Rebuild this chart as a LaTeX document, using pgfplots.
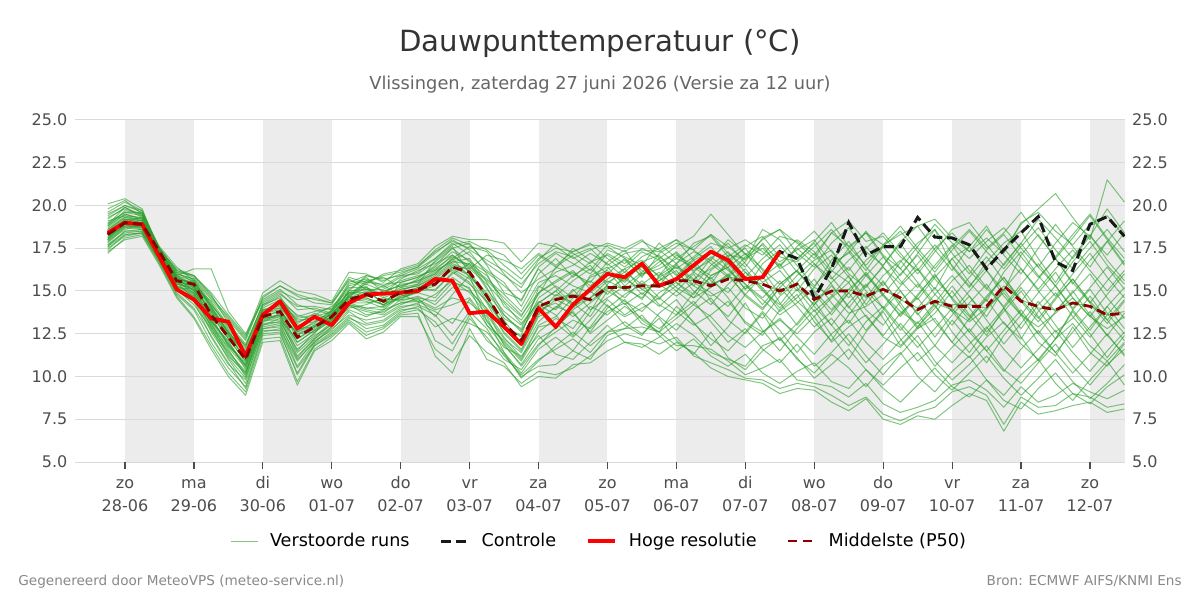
\documentclass[border=0pt]{standalone}
\usepackage{fontspec}
\setmainfont{DejaVu Sans}
\usepackage{pgfplots}
\usepackage{pgfplotstable}
\pgfplotsset{compat=1.18}

\definecolor{ensgreen}{RGB}{44,160,44}
\definecolor{p50red}{RGB}{139,0,0}
\definecolor{hresred}{RGB}{255,0,0}
\definecolor{dayshade}{RGB}{236,236,236}
\definecolor{gridgray}{RGB}{218,218,218}
\definecolor{ticktext}{RGB}{77,77,77}
\definecolor{titletext}{RGB}{51,51,51}
\definecolor{subtext}{RGB}{102,102,102}
\definecolor{foot}{RGB}{136,136,136}

% Ensemble members: one row per member, one column per 6-hourly step
% (hours relative to 28-06 00:00)
\pgfplotstableread[header=has colnames]{
member -6 0 6 12 18 24 30 36 42 48 54 60 66 72 78 84 90 96 102 108 114 120 126 132 138 144 150 156 162 168 174 180 186 192 198 204 210 216 222 228 234 240 246 252 258 264 270 276 282 288 294 300 306 312 318 324 330 336 342 348
m1 18.0 19.2 19.0 17.0 15.8 15.0 13.9 12.5 11.3 13.8 14.2 12.9 13.4 13.2 14.8 15.3 14.1 15.5 15.8 16.4 17.3 16.8 15.2 13.4 12.8 14.9 15.6 16.2 15.1 16.3 16.8 15.9 16.7 17.2 16.1 15.4 16.8 17.5 16.2 14.8 15.9 16.8 17.4 16.0 15.2 16.5 17.8 16.3 15.1 16.9 17.6 16.2 15.0 17.1 18.3 16.9 15.4 16.8 17.9 16.5
m2 18.7 19.5 19.2 17.4 15.3 14.8 12.9 11.5 10.2 13.1 13.2 11.6 12.4 13.0 14.1 13.8 13.6 14.2 14.6 13.5 14.8 15.9 13.2 12.0 10.9 12.6 13.4 12.8 14.1 13.6 14.5 13.3 12.6 14.1 13.2 11.8 12.9 14.3 12.7 11.5 12.8 13.9 12.4 11.0 12.6 13.8 12.2 10.9 11.8 13.3 12.1 10.8 12.4 13.6 12.0 11.2 12.9 11.4 10.6 11.9
m3 19.3 19.8 19.5 17.5 16.1 15.9 14.8 13.1 11.9 14.2 14.6 13.5 13.8 14.0 15.3 15.6 15.2 15.8 16.1 16.9 17.8 17.1 16.2 15.5 14.1 16.0 16.9 15.8 16.7 17.1 16.4 17.3 16.8 15.9 16.9 17.6 16.3 15.1 16.6 17.4 16.1 15.2 16.8 17.9 16.4 15.3 16.7 17.8 18.6 17.2 16.0 17.4 18.3 17.0 15.8 16.9 18.1 19.4 18.0 16.6
m4 17.6 18.5 18.6 16.9 15.1 14.2 12.8 11.0 9.6 12.6 12.8 10.9 12.1 12.7 13.8 13.1 13.3 14.0 14.3 14.8 15.6 14.9 13.6 12.2 11.4 13.2 14.1 13.7 12.6 14.0 14.8 15.4 14.2 13.6 14.9 15.8 14.6 13.1 12.4 13.9 14.8 13.2 12.1 13.6 14.9 13.4 11.8 12.9 14.2 12.6 11.4 12.8 14.0 12.3 10.9 12.2 13.8 12.5 11.1 12.4
m5 18.4 19.1 19.3 17.3 15.9 16.3 16.3 13.8 12.5 14.5 15.1 14.2 13.9 13.6 15.0 15.9 15.6 16.0 16.4 17.2 18.0 17.4 16.8 16.2 15.4 16.6 17.3 17.0 16.2 17.4 17.0 16.5 17.8 16.9 17.6 18.3 17.2 16.4 17.8 16.7 17.4 18.0 16.6 17.2 18.5 17.1 16.3 17.6 18.9 17.8 16.9 17.9 18.7 17.5 16.4 17.8 19.0 18.2 17.1 18.4
m6 17.9 18.6 18.9 17.1 15.4 15.2 13.3 12.0 10.6 13.3 13.6 12.0 12.7 13.4 14.4 14.6 14.2 14.6 15.0 15.1 16.0 16.6 15.1 13.8 13.0 14.4 13.9 15.0 15.6 14.8 15.9 14.8 15.6 16.2 15.0 14.2 15.4 16.3 15.1 13.8 14.6 15.7 14.3 13.1 14.5 15.6 14.1 12.8 13.7 15.0 13.6 12.4 14.0 15.2 13.9 12.6 13.4 14.7 13.3 12.1
m7 18.9 19.9 19.4 17.6 16.4 15.6 14.2 12.9 11.8 14.0 14.5 13.2 13.5 13.8 14.9 15.4 15.0 15.3 15.6 16.0 16.9 17.6 17.3 16.0 14.9 15.7 16.3 17.5 16.8 16.0 15.6 16.7 17.1 16.0 15.3 16.5 17.3 16.1 15.0 14.2 15.5 16.6 15.4 14.0 15.3 16.4 15.0 13.6 14.8 15.9 14.7 13.5 15.1 16.3 15.0 13.8 14.9 16.0 14.6 13.4
m8 17.2 18.1 18.3 16.6 14.7 13.5 11.8 10.2 9.1 12.2 12.3 9.7 11.6 12.3 13.2 12.4 12.8 13.6 13.7 11.2 10.2 12.8 11.0 10.6 9.6 10.3 10.1 10.5 11.2 12.1 12.5 12.2 11.9 12.3 11.2 10.8 10.4 9.9 9.8 9.3 9.6 9.4 8.9 8.3 8.8 7.8 7.4 7.9 8.2 9.1 9.4 8.9 7.2 8.8 8.2 8.3 9.0 8.8 8.2 8.4
m9 19.6 20.2 19.7 17.4 16.0 15.7 14.5 13.3 12.1 14.6 15.3 14.7 14.3 14.2 15.7 15.1 14.8 15.7 16.2 16.6 17.1 16.3 17.1 16.8 16.3 17.2 16.5 17.3 17.8 16.9 16.1 17.0 17.5 18.0 17.4 16.6 15.8 16.7 18.1 18.6 17.8 16.9 18.4 19.1 17.9 18.2 17.0 16.2 17.5 18.4 17.3 18.1 17.2 19.0 19.6 18.5 17.7 18.9 19.4 18.2
m10 18.1 18.9 18.7 17.0 15.5 14.6 13.0 11.7 10.5 13.0 13.4 11.2 12.2 13.1 14.0 14.2 14.6 14.4 14.7 14.2 15.2 15.0 14.0 12.6 11.6 13.6 14.8 14.3 13.5 15.0 14.4 13.8 14.9 15.5 14.6 15.2 16.0 14.7 13.9 15.2 14.1 12.9 13.8 14.9 13.5 12.4 13.7 14.6 13.2 12.0 13.4 14.5 13.1 12.2 13.8 14.9 13.5 12.3 13.6 14.8
m11 20.1 20.4 19.8 17.2 15.7 15.5 14.0 12.6 11.5 13.9 14.0 13.0 13.2 13.6 14.7 15.6 15.8 15.2 15.4 16.8 17.6 16.0 14.4 12.9 12.4 15.2 16.1 16.5 17.2 16.6 15.8 16.4 15.3 16.6 17.3 16.8 18.0 17.2 16.0 17.1 18.0 17.3 16.1 17.5 18.4 17.0 15.9 17.2 18.6 16.4 15.2 16.7 17.8 18.5 16.9 15.5 17.0 18.3 16.8 15.6
m12 17.7 18.4 18.5 16.8 15.2 15.1 13.4 11.9 10.8 13.2 13.7 12.5 12.6 13.3 14.3 14.0 13.9 14.7 14.9 15.6 16.2 15.5 13.9 11.8 10.7 12.2 12.8 13.9 14.6 15.3 14.2 14.9 14.1 15.0 16.0 14.4 13.5 14.8 15.9 14.3 13.0 14.2 15.3 14.1 12.7 13.9 15.0 13.7 12.3 13.6 14.7 13.3 11.9 13.1 14.4 13.0 11.7 12.9 14.1 12.8
m13 18.5 19.3 19.1 17.3 15.6 15.3 13.7 12.2 10.9 13.7 13.9 12.4 13.0 13.7 14.6 15.0 14.3 15.1 15.3 15.8 16.6 16.2 14.6 13.3 11.9 14.2 13.6 12.4 13.8 15.4 16.3 15.1 14.5 15.8 16.8 15.6 14.9 16.1 15.2 14.0 15.1 13.8 14.7 15.9 14.2 15.5 14.3 12.9 14.0 15.3 14.0 12.6 13.8 15.0 13.5 12.2 13.9 15.1 13.7 12.5
m14 18.2 18.8 19.0 17.1 15.7 15.0 13.1 11.3 10.1 13.4 13.5 11.8 12.5 13.9 14.9 14.9 15.3 14.8 14.4 12.1 11.5 13.4 12.3 11.0 10.4 11.8 12.9 13.8 12.5 13.3 14.1 13.4 12.8 13.6 14.4 13.2 12.0 12.8 11.6 10.8 11.9 10.6 11.4 12.5 11.2 10.1 11.3 12.4 10.9 9.8 10.7 11.8 10.4 9.6 10.8 11.9 10.6 9.5 10.7 11.6
m15 19.0 19.6 19.6 17.5 16.2 15.8 14.6 13.5 12.3 14.9 15.6 15.0 14.8 14.4 16.1 16.0 15.5 16.3 16.6 17.6 18.2 18.0 18.0 17.8 16.7 17.8 17.6 16.9 17.4 17.8 17.5 18.0 16.9 17.6 18.2 19.5 18.3 17.1 18.0 18.6 17.2 16.4 17.8 18.7 17.3 16.5 17.9 18.8 17.4 16.2 17.6 18.8 17.1 16.0 17.5 18.9 17.6 16.4 17.9 19.1
m16 17.4 18.3 18.4 16.7 14.9 14.0 12.4 10.8 9.3 12.4 12.5 10.2 11.9 12.6 13.5 12.8 13.0 13.8 14.1 13.6 12.4 13.8 12.8 11.2 10.1 11.0 11.6 12.2 11.4 12.6 13.2 12.5 13.4 12.1 11.3 12.6 11.1 10.4 11.5 12.3 11.0 10.2 11.3 10.5 9.4 10.6 11.4 10.0 9.1 10.3 11.2 9.8 8.9 10.1 11.0 9.6 8.6 9.8 10.9 9.5
m17 18.6 19.4 19.3 17.2 15.5 15.6 14.1 12.7 11.2 13.6 14.4 13.6 13.3 13.4 14.6 15.5 15.4 15.5 15.8 16.3 17.0 16.5 15.7 14.8 13.8 15.5 15.9 15.3 14.9 15.7 16.3 16.8 15.8 16.4 15.6 16.9 17.8 16.6 15.5 16.2 15.0 16.3 17.1 15.8 14.6 15.9 16.8 15.5 14.3 15.6 16.5 15.2 14.1 15.4 16.6 15.3 14.0 15.2 16.4 15.1
m18 17.8 18.7 18.8 17.0 15.3 14.7 12.7 11.4 10.3 12.9 13.1 11.0 12.0 12.9 14.2 13.6 13.8 14.3 14.5 14.0 14.6 14.3 13.5 11.4 10.2 11.6 12.3 11.5 12.9 14.2 13.0 12.4 13.7 14.5 13.1 12.2 11.5 12.6 13.8 12.7 11.4 12.6 13.4 12.1 10.8 11.9 13.1 12.0 10.6 11.7 12.8 11.5 10.3 11.6 12.7 11.4 10.2 11.3 12.5 11.2
m19 19.4 20.0 19.6 17.4 15.9 15.2 13.8 12.4 11.4 14.1 14.7 13.1 13.7 13.3 15.1 15.8 14.9 15.4 15.5 16.1 16.8 17.3 16.0 14.1 13.3 14.8 16.4 16.0 15.5 16.7 17.4 16.0 16.5 17.3 16.2 16.8 15.9 17.0 17.7 16.3 16.9 17.8 16.2 15.5 16.8 17.6 16.3 15.2 16.5 17.7 16.2 15.1 16.6 17.8 16.4 15.3 16.7 17.9 16.5 15.4
m20 18.0 18.9 18.6 17.1 15.6 14.9 13.2 12.1 10.4 13.3 13.3 12.2 12.8 13.5 14.5 14.4 14.0 14.8 15.2 15.0 16.1 15.4 14.4 13.0 12.3 13.9 14.3 13.5 14.3 15.1 15.7 15.1 15.4 14.7 15.5 14.9 14.1 15.3 14.5 13.6 14.3 15.2 14.8 13.7 14.1 14.8 13.8 13.1 14.3 13.9 13.2 14.0 14.9 13.6 12.9 13.7 14.6 13.5 12.8 13.5
m21 18.8 19.7 19.5 17.3 16.0 15.7 14.3 12.8 11.6 13.9 14.1 12.7 13.1 13.9 15.2 15.2 14.7 15.2 15.7 16.5 17.5 17.8 16.5 14.9 14.5 16.3 15.2 14.2 15.9 16.4 15.3 16.1 16.9 15.5 14.8 16.2 17.0 15.8 16.9 17.7 16.5 15.3 16.4 17.3 15.9 14.8 16.0 17.1 15.7 14.6 15.8 17.0 15.6 14.4 15.7 16.9 15.5 14.3 15.6 16.8
m22 17.5 18.2 18.4 16.8 15.0 14.4 12.3 10.7 9.8 12.8 12.9 10.6 12.0 12.8 13.6 13.3 13.5 14.1 14.2 13.8 13.1 14.5 13.0 11.7 11.2 12.4 11.3 11.0 12.0 13.0 12.0 11.7 12.3 13.1 12.4 11.4 11.0 10.6 11.8 12.2 11.1 9.9 10.7 11.6 10.4 9.5 10.5 11.4 10.1 9.2 10.2 11.2 9.9 8.9 9.9 11.0 9.7 8.7 9.6 10.7
m23 19.1 19.4 19.1 17.4 15.8 15.4 13.6 12.3 11.1 13.6 14.3 13.4 13.6 14.1 15.0 15.1 15.1 15.6 15.9 16.2 16.7 16.9 15.5 13.6 12.6 14.6 15.3 14.6 15.8 16.2 15.0 16.0 16.3 16.9 16.4 15.7 16.6 15.4 14.2 15.4 16.2 14.9 13.6 14.9 16.1 14.8 13.5 14.7 16.0 14.5 13.3 14.6 15.8 14.4 13.2 14.5 15.7 14.3 13.1 14.4
m24 18.3 19.0 18.9 17.2 15.4 15.1 13.5 11.8 10.7 13.4 13.6 12.6 13.0 13.2 14.3 14.3 14.5 14.5 15.0 15.3 16.3 15.7 14.3 12.5 11.5 13.5 14.0 15.1 13.9 14.6 15.3 14.5 15.9 16.6 15.3 14.7 15.2 14.0 13.4 14.7 15.5 14.1 13.0 14.3 15.4 14.0 12.7 14.0 15.2 13.8 12.6 13.9 15.1 13.7 12.5 13.8 15.0 13.6 12.4 13.7
m25 19.8 20.3 19.5 17.3 15.8 15.3 14.4 13.0 11.7 14.3 14.9 13.9 14.0 13.7 15.4 15.7 15.3 15.9 16.0 16.7 17.5 16.7 16.1 15.3 14.4 16.4 17.2 16.6 16.0 17.2 16.6 17.5 17.0 16.3 17.0 17.8 17.5 18.0 17.3 16.4 17.6 18.5 17.3 16.2 17.5 18.4 17.2 16.0 17.3 18.6 19.0 17.7 16.5 17.8 19.2 18.1 16.9 18.2 19.8 18.4
m26 18.2 18.9 18.8 17.0 15.6 14.8 13.1 11.6 10.0 13.0 13.2 11.4 12.3 13.2 14.2 13.9 13.7 14.5 14.6 14.4 15.5 15.2 13.0 12.1 11.0 12.9 13.1 12.3 13.3 14.5 13.6 14.3 13.5 12.7 13.9 14.6 13.3 12.5 13.7 12.1 13.1 14.4 13.0 11.8 13.2 14.1 12.9 11.7 12.8 14.0 12.6 11.5 12.7 13.9 12.5 11.4 12.6 13.8 12.4 11.3
m27 18.9 19.6 19.4 17.4 16.3 15.9 14.9 13.6 12.4 14.4 15.0 14.5 14.6 14.3 15.6 15.4 16.0 16.2 16.5 17.3 17.9 17.5 17.5 17.1 16.0 17.1 16.4 17.1 17.5 16.5 17.2 17.4 17.3 18.0 16.8 17.3 16.6 17.6 18.2 17.0 16.7 17.6 18.6 17.4 16.2 17.6 18.5 17.3 16.1 17.4 18.5 17.3 16.3 17.6 18.7 17.4 16.3 17.5 18.6 17.3
m28 17.9 18.8 18.7 17.0 15.2 14.5 12.6 11.1 9.9 12.7 12.7 10.5 11.8 12.5 13.4 13.0 13.2 13.9 14.0 12.9 13.4 13.1 12.6 11.4 9.9 10.9 11.8 12.6 11.8 12.6 12.8 13.6 12.4 11.5 12.2 11.2 10.6 11.3 10.2 9.6 10.3 10.8 9.7 9.3 10.4 9.3 8.5 9.5 10.5 9.4 8.8 9.8 8.6 8.1 9.3 10.2 9.0 8.4 9.4 10.1
m29 18.4 19.2 19.0 17.2 15.6 15.2 13.8 12.4 11.1 13.6 13.8 12.8 12.9 13.5 14.7 14.6 14.2 14.9 15.2 15.7 16.5 16.3 15.4 14.3 13.1 14.3 15.0 15.9 16.5 15.3 14.6 15.6 14.6 15.3 16.1 17.0 16.2 15.4 14.6 15.6 14.4 13.5 14.6 15.5 13.9 13.0 14.4 15.4 14.1 13.0 14.3 15.4 14.0 12.8 14.2 15.3 13.9 12.7 14.1 15.2
m30 17.3 18.0 18.2 16.5 14.6 13.4 11.6 10.0 8.9 12.0 12.1 9.5 11.5 12.1 13.1 12.2 12.6 13.5 13.5 11.6 10.8 12.4 11.4 10.8 9.4 10.0 9.9 10.7 10.8 11.5 12.0 11.9 11.3 12.0 11.4 10.5 10.0 9.8 9.6 9.0 9.3 9.2 8.5 8.0 8.7 7.5 7.2 7.7 7.5 8.3 9.0 8.6 6.8 8.5 7.8 8.0 8.3 8.5 7.9 8.1
m31 18.6 19.3 19.2 17.3 15.9 15.6 14.0 12.6 11.4 13.8 14.4 13.3 13.4 13.6 14.8 15.1 14.6 15.0 15.4 16.0 16.9 15.8 14.8 12.8 11.8 13.7 14.5 14.0 15.0 16.0 16.9 16.2 15.6 16.5 15.7 16.3 17.1 16.9 17.5 16.5 17.5 16.6 15.7 16.8 17.6 16.4 15.4 16.6 17.7 16.5 15.3 16.4 17.5 16.3 15.1 16.3 17.4 16.2 15.0 16.2
m32 18.0 18.7 18.6 17.0 15.3 14.9 13.3 11.9 10.6 13.2 13.5 11.5 12.6 13.3 14.2 14.0 14.1 14.6 14.9 14.6 15.8 15.1 13.8 12.3 11.1 13.0 13.5 14.6 15.0 14.1 13.5 14.0 14.6 13.8 13.0 13.6 14.4 13.2 12.6 13.3 12.5 13.5 12.0 12.9 13.6 12.3 11.7 12.8 13.4 12.0 11.1 12.3 13.2 11.9 11.0 12.2 13.1 11.8 10.9 12.0
m33 19.2 19.9 19.3 17.5 16.1 15.5 14.2 13.0 11.8 14.2 14.8 14.1 14.1 13.9 15.5 15.9 15.7 15.9 16.3 16.9 17.7 17.9 17.4 16.5 15.7 16.9 17.5 17.3 17.7 17.6 16.9 15.8 17.2 17.8 17.4 18.3 17.6 16.8 18.6 18.0 16.8 17.9 19.0 17.6 16.5 17.7 18.8 17.5 16.3 17.6 18.6 17.5 18.4 19.6 18.2 17.0 18.3 19.5 18.1 16.9
m34 17.7 18.5 18.5 16.9 15.1 14.7 12.9 11.2 10.2 12.8 13.0 11.1 12.2 12.9 13.9 13.5 13.9 14.3 14.4 13.9 14.2 14.6 13.3 11.9 10.6 11.9 12.6 13.3 12.8 13.8 14.3 13.1 12.6 13.4 14.2 13.5 12.4 11.7 12.6 13.4 12.3 11.3 12.5 13.3 12.0 11.0 12.1 13.2 11.8 10.8 11.9 12.9 11.6 10.5 11.6 12.7 11.4 10.3 11.5 12.6
m35 18.5 19.2 19.1 17.3 15.7 15.5 14.1 12.5 11.0 13.7 14.0 12.2 12.9 13.7 14.7 15.2 14.8 15.1 15.3 15.9 16.7 16.6 15.9 14.4 13.5 15.3 14.7 15.6 16.3 15.5 16.1 15.4 16.1 15.2 14.6 15.9 16.4 15.1 15.8 16.6 15.2 14.2 15.5 16.4 15.0 14.0 15.3 16.3 14.8 13.8 15.0 16.2 14.7 13.6 14.9 16.1 14.6 13.5 14.8 16.0
m36 18.1 18.8 18.8 17.1 15.5 15.1 13.2 11.8 10.7 13.4 13.6 12.0 12.7 13.4 14.4 14.5 14.2 14.7 15.0 15.5 16.4 15.9 14.9 13.6 12.7 14.3 15.0 14.1 14.6 15.6 15.1 14.6 15.8 15.0 14.2 15.3 15.9 14.8 14.0 15.2 16.2 15.0 13.9 15.1 16.0 14.7 13.6 14.8 15.9 14.6 13.5 14.7 15.8 14.5 13.4 14.6 15.7 14.4 13.3 14.5
m37 19.5 20.0 19.7 17.5 16.2 15.9 14.7 13.4 12.2 14.7 15.3 14.8 14.5 14.3 15.8 15.5 15.9 16.1 16.4 17.4 18.1 17.7 16.6 15.9 15.2 16.8 17.8 17.2 16.6 17.7 17.3 17.9 17.4 16.6 17.8 18.2 17.0 17.7 17.1 18.2 17.9 17.1 18.4 17.6 18.4 17.7 18.3 18.8 19.2 18.1 17.3 18.6 17.4 18.9 19.8 20.7 19.3 18.0 21.5 20.2
m38 17.6 18.3 18.4 16.7 14.8 13.9 12.0 10.5 9.4 12.5 12.6 10.1 11.8 12.4 13.3 12.6 12.9 13.7 13.9 13.2 11.9 13.6 12.1 11.3 10.0 10.6 10.7 11.5 11.0 12.4 12.8 12.9 12.6 11.8 11.8 11.6 10.9 10.1 10.5 11.0 9.8 9.6 9.4 8.8 9.6 8.4 7.9 8.2 8.6 9.5 9.8 9.2 8.2 9.4 8.5 8.9 9.6 9.1 8.7 9.2
m39 18.3 19.1 18.9 17.2 15.6 15.3 13.6 12.2 10.9 13.5 13.8 12.5 12.9 13.5 14.5 14.9 14.4 14.9 15.1 15.4 16.4 16.0 14.6 13.0 12.0 14.0 14.6 14.8 14.4 15.2 15.2 15.4 15.2 15.7 15.6 15.4 15.8 15.7 15.4 15.0 15.4 14.6 15.0 15.1 14.7 15.1 14.5 14.0 14.4 14.2 14.2 14.0 15.3 14.5 14.0 13.9 14.3 14.1 13.6 13.8
m40 18.8 19.5 19.2 17.4 15.9 15.4 13.9 12.6 11.3 13.9 14.2 12.6 13.2 13.8 14.9 14.7 15.0 15.3 15.6 16.2 17.1 16.4 15.6 14.6 13.6 14.9 15.5 16.1 15.3 16.1 15.5 16.6 15.9 17.1 16.5 15.9 16.4 17.2 16.3 15.4 16.2 17.2 15.8 14.6 15.9 17.0 15.6 14.5 15.8 16.9 15.5 14.4 16.1 17.3 15.9 14.7 16.0 17.2 15.8 14.6
}\ensraw
\pgfplotstabletranspose[colnames from=member]{\ens}{\ensraw}

% High resolution run, control run and ensemble median
\pgfplotstableread{
h hres ctrl p50
-6 18.4 18.4 18.3
0 19.0 19.0 19.0
6 18.9 18.9 18.9
12 17.0 17.0 17.3
18 15.1 15.1 15.6
24 14.5 14.5 15.4
30 13.4 13.4 13.6
36 13.2 13.2 12.3
42 11.2 11.2 11.0
48 13.6 13.6 13.5
54 14.4 14.4 13.8
60 12.8 12.8 12.3
66 13.5 13.5 12.9
72 13.0 13.0 13.5
78 14.3 14.3 14.5
84 14.8 14.8 14.8
90 14.85 14.85 14.4
96 14.9 14.9 14.9
102 15.0 15.0 15.1
108 15.7 15.7 15.4
114 15.6 15.6 16.4
120 13.7 13.7 16.1
126 13.8 13.8 14.7
132 12.9 12.9 13.1
138 11.9 11.9 12.1
144 14.0 14.0 14.1
150 12.9 12.9 14.5
156 14.2 14.2 14.7
162 15.1 15.1 14.5
168 16.0 16.0 15.2
174 15.8 15.8 15.2
180 16.6 16.6 15.3
186 15.3 15.3 15.3
192 15.7 15.7 15.6
198 16.5 16.5 15.6
204 17.3 17.3 15.3
210 16.8 16.8 15.7
216 15.7 15.7 15.6
222 15.8 15.8 15.4
228 17.3 17.3 15.0
234 nan 16.9 15.4
240 nan 14.6 14.5
246 nan 16.3 15.0
252 nan 19.0 15.0
258 nan 17.1 14.7
264 nan 17.6 15.1
270 nan 17.6 14.6
276 nan 19.3 13.9
282 nan 18.15 14.4
288 nan 18.1 14.1
294 nan 17.7 14.1
300 nan 16.3 14.1
306 nan 17.4 15.3
312 nan 18.4 14.4
318 nan 19.35 14.1
324 nan 16.7 13.9
330 nan 16.2 14.3
336 nan 18.9 14.1
342 nan 19.35 13.6
348 nan 18.2 13.7
}\mainruns

% Alternate days (Sunday, Tuesday, ...) are shaded, in hours since 28-06 00:00
\pgfplotstableread{
start stop
0 24
48 72
96 120
144 168
192 216
240 264
288 312
336 348.2
}\daybands

\tikzset{
  member/.style={ensgreen, opacity=0.6, line width=0.5pt, line join=round},
}

% day name over date, with a phantom ascender so that every label sits alike
\newcommand{\daylabel}[2]{\vphantom{d}#1\\#2}

\pgfplotsset{
  common/.style={
    at={(37.5pt,69pt)}, anchor=south west,
    scale only axis, width=525pt, height=171pt,
    xmin=-17.4, xmax=348.2, ymin=5, ymax=25,
    ytick={5,7.5,...,25},
    ytick style={draw=none},
    axis line style={draw=none},
    /pgf/number format/fixed,
    /pgf/number format/fixed zerofill,
    /pgf/number format/precision=1,
    /pgf/number format/assume math mode=true,
    yticklabel style={font=\fontsize{8}{9.6}\selectfont, text=ticktext},
  },
}

\begin{document}
\begin{tikzpicture}
\useasboundingbox (0,0) rectangle (600pt,300pt);

% background: day shading only
\begin{axis}[common, hide axis]
\pgfplotsinvokeforeach{0,...,7}{
  \pgfplotstablegetelem{#1}{start}\of\daybands \let\bandstart\pgfplotsretval
  \pgfplotstablegetelem{#1}{stop}\of\daybands \let\bandstop\pgfplotsretval
  \edef\dobands{\noexpand\fill[dayshade] (axis cs:\bandstart,5) rectangle (axis cs:\bandstop,25);}
  \dobands
}
\addplot[draw=none, forget plot] table[x=h, y=p50] {\mainruns};
\end{axis}

\begin{axis}[
  common,
  axis x line*=bottom, axis y line*=left,
  xtick={0,24,...,336},
  xticklabels={{\daylabel{zo}{28-06}},{\daylabel{ma}{29-06}},{\daylabel{di}{30-06}},{\daylabel{wo}{01-07}},{\daylabel{do}{02-07}},{\daylabel{vr}{03-07}},{\daylabel{za}{04-07}},{\daylabel{zo}{05-07}},{\daylabel{ma}{06-07}},{\daylabel{di}{07-07}},{\daylabel{wo}{08-07}},{\daylabel{do}{09-07}},{\daylabel{vr}{10-07}},{\daylabel{za}{11-07}},{\daylabel{zo}{12-07}}},
  xticklabel style={align=center, font=\fontsize{8}{11.75}\selectfont, text=ticktext},
  yticklabel style={xshift=3.2pt},
  xtick style={draw=ticktext, line width=0.6pt},
  tick align=outside,
  major tick length=3.5pt,
  ymajorgrids,
  grid style={gridgray, line width=0.5pt},
  legend columns=4,
  legend style={at={(0.5,-0.231)}, anchor=center, draw=none, fill=none,
    font=\fontsize{8.8}{10}\selectfont,
    /tikz/every odd column/.append style={column sep=4pt},
    /tikz/every even column/.append style={column sep=13pt}},
  legend image code/.code={\draw[#1] (0pt,0pt) -- (13.5pt,0pt);},
]
\addplot[member] table[x=colnames, y=m1] {\ens};
\addlegendentry{Verstoorde runs}
\pgfplotsinvokeforeach{2,...,40}{
  \addplot[member, forget plot] table[x=colnames, y=m#1] {\ens};
}
\addplot[black!90, line width=1.5pt, dash pattern=on 5pt off 2.4pt] table[x=h, y=ctrl] {\mainruns};
\addlegendentry{Controle}
\addplot[hresred, line width=1.9pt, line join=round] table[x=h, y=hres] {\mainruns};
\addlegendentry{Hoge resolutie}
\addplot[p50red, line width=1.4pt, dash pattern=on 4.6pt off 2.6pt] table[x=h, y=p50] {\mainruns};
\addlegendentry{Middelste (P50)}
\end{axis}

% same frame again, only to carry the tick labels on the right-hand side
\begin{axis}[
  common,
  axis x line=none,
  axis y line*=right,
]
\addplot[draw=none, forget plot] table[x=h, y=p50] {\mainruns};
\end{axis}

\node[anchor=base, text=titletext, font=\fontsize{14.6}{17}\selectfont] at (300pt,274pt) {Dauwpunttemperatuur (°C)};
\node[anchor=base, text=subtext, font=\fontsize{8.9}{10.5}\selectfont] at (300pt,255pt) {Vlissingen, zaterdag 27 juni 2026 (Versie za 12 uur)};
\node[anchor=base west, text=foot, font=\fontsize{6.8}{8}\selectfont, inner sep=0pt] at (9pt,7pt) {Gegenereerd door MeteoVPS (meteo-service.nl)};
\node[anchor=base east, text=foot, font=\fontsize{6.8}{8}\selectfont, inner sep=0pt] at (591pt,7pt) {Bron: ECMWF AIFS/KNMI Ens};
\end{tikzpicture}
\end{document}
